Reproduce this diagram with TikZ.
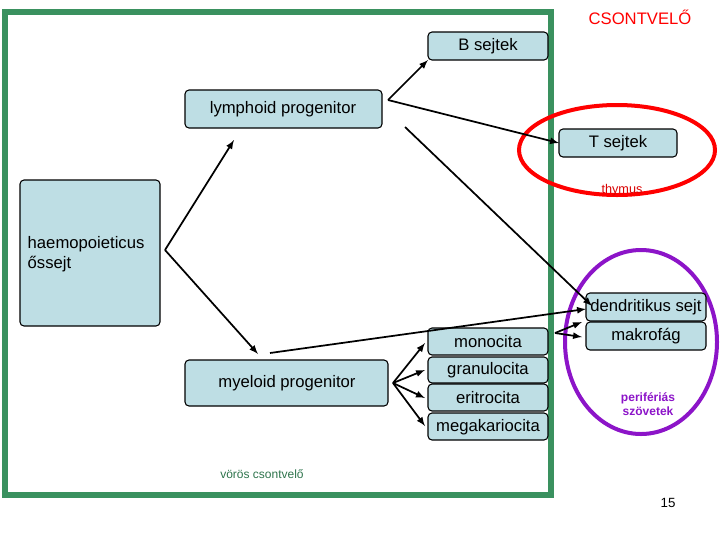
\documentclass[tikz,border=0pt]{standalone}
\usepackage{fontspec}
\setmainfont{Liberation Sans}
\definecolor{cellfill}{RGB}{190,222,228}
\definecolor{framegreen}{RGB}{58,145,95}
\definecolor{perpurple}{RGB}{140,20,200}
\begin{document}
\begin{tikzpicture}[x=0.75pt, y=-0.75pt, >=latex,
  cell/.style={draw, thick, rounded corners=3pt, fill=cellfill},
  lbl/.style={font=\fontsize{12.5}{15}\selectfont},
  arr/.style={line width=1.3pt, ->}]
	\useasboundingbox (0,0) rectangle (720,540);
	% frame and ellipses
	\draw[line width=5pt, framegreen] (5,12) rectangle (551,495);
	\draw[line width=3pt, red] (617,150) ellipse (98 and 45);
	\draw[line width=3pt, perpurple] (641,342) ellipse (76 and 92);
	\node[red, lbl] (bone) at (640,17) {CSONTVELŐ};

	% boxes
	\draw[cell] (428,32) rectangle (548,60);  \node[lbl] (b) at (488,46) {B sejtek};
	\draw[cell] (185,90) rectangle (382,128); \node[lbl] (lym) at (283,109) {lymphoid progenitor};
	\draw[cell] (559,129) rectangle (677,157); \node[lbl] (t) at (618,143) {T sejtek};
	\draw[cell] (20,180) rectangle (160,326);
	\node[lbl, align=left, anchor=west] (hsc) at (23,254) {haemopoieticus\\őssejt};

	\draw[cell] (586,293) rectangle (706,321); \node[lbl] (dc) at (646,307) {dendritikus sejt};
	\draw[cell] (586,322) rectangle (706,350); \node[lbl] (mf) at (646,336) {makrofág};

	\draw[cell] (428,328) rectangle (548,355); \node[lbl] (mono) at (488,342) {monocita};
	\draw[cell] (428,357) rectangle (548,383); \node[lbl] (gran) at (488,370) {granulocita};
	\draw[cell] (428,384) rectangle (548,411); \node[lbl] (eri) at (488,398) {eritrocita};
	\draw[cell] (428,413) rectangle (548,440); \node[lbl] (mega) at (488,427) {megakariocita};
	\draw[cell] (185,360) rectangle (388,406); \node[lbl] (mye) at (287,383) {myeloid progenitor};

	% small labels
	\node[red!85!black, font=\fontsize{9.5}{11}\selectfont] (thy) at (622,190) {thymus};
	\node[perpurple, font=\bfseries\fontsize{9}{11}\selectfont, align=center] (per) at (648,404) {perifériás\\szövetek};
	\node[framegreen!80!black, font=\fontsize{9}{10}\selectfont] (vcs) at (262,474) {vörös csontvelő};
	\node[font=\fontsize{10}{12}\selectfont] (pg) at (668,503) {15};

	% arrows
	\coordinate (h) at (165,250);
	\coordinate (lo) at (388,100);
	\coordinate (mo) at (393,383);
	\coordinate (po) at (555,333);
	\draw[arr] (h) -- (234,140);
	\draw[arr] (h) -- (258,354);
	\draw[arr] (lo) -- (428,60);
	\draw[arr] (lo) -- (559,143);
	\draw[arr] (405,127) -- (592,306);
	\draw[arr] (270,353) -- (586,309);
	\foreach \y in {343,370,398,426} \draw[arr] (mo) -- (425,\y);
	\draw[arr] (po) -- (582,322);
	\draw[arr] (po) -- (582,337);
\end{tikzpicture}
\end{document}
